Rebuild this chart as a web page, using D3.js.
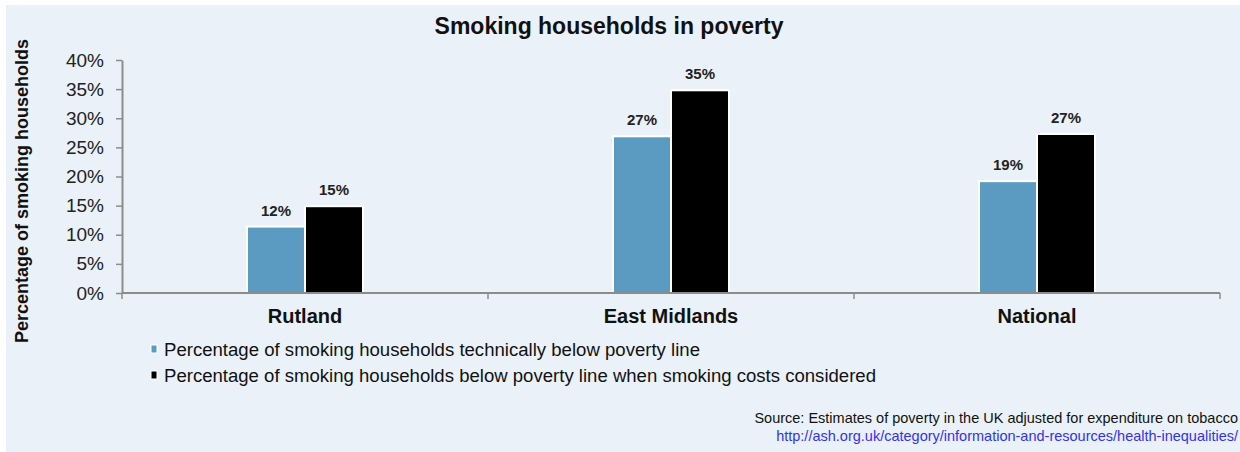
<!DOCTYPE html>
<html><head><meta charset="utf-8">
<script src="https://cdn.jsdelivr.net/npm/d3@7"></script>
<style>
html,body{margin:0;padding:0;background:#fff;}
svg{display:block;font-family:"Liberation Sans",Arial,sans-serif;}
</style></head>
<body>
<svg id="c" width="1240" height="452"></svg>
<script>
const categories = ["Rutland", "East Midlands", "National"];
const seriesNames = ["Percentage of smoking households technically below poverty line",
                     "Percentage of smoking households below poverty line when smoking costs considered"];
const technical = [11.4, 26.9, 19.2];
const withSmoking = [14.9, 34.8, 27.3];
const technicalLabels = ["12%", "27%", "19%"];
const withSmokingLabels = ["15%", "35%", "27%"];
const yTicks = [0, 5, 10, 15, 20, 25, 30, 35, 40];
const colors = ["#5b9bc1", "#000000"];

const svg = d3.select("#c");
svg.append("rect").attr("x", 6).attr("y", 5).attr("width", 1234).attr("height", 447).attr("fill", "#eaf1f8");

const m = {l: 122, r: 1220, t: 60, b: 293};
const x = d3.scaleBand().domain(categories).range([m.l, m.r]);
const y = d3.scaleLinear().domain([0, 40]).range([m.b, m.t]);
const x1 = d3.scaleBand().domain([0, 1]).range([0, 116]).padding(0);

const series = [technical, withSmoking];
const labels = [technicalLabels, withSmokingLabels];

// bars
series.forEach((vals, si) => {
  svg.append("g").selectAll("rect").data(vals).join("rect")
    .attr("x", (d, i) => x(categories[i]) + x.bandwidth() / 2 - 58 + x1(si))
    .attr("y", d => y(d))
    .attr("width", x1.bandwidth())
    .attr("height", d => y(0) - y(d))
    .attr("fill", colors[si])
    .attr("stroke", "#ffffff").attr("stroke-width", 2);
  svg.append("g").selectAll("text").data(vals).join("text")
    .attr("x", (d, i) => x(categories[i]) + x.bandwidth() / 2 - 58 + x1(si) + x1.bandwidth() / 2)
    .attr("y", d => y(d) - 11)
    .attr("text-anchor", "middle")
    .attr("font-size", 15).attr("font-weight", "bold").attr("fill", "#222")
    .text((d, i) => labels[si][i]);
});

// y axis
const yAxis = d3.axisLeft(y).tickValues(yTicks).tickFormat(d => d + "%").tickSize(6).tickSizeOuter(0);
const gy = svg.append("g").attr("transform", `translate(${m.l},0)`).call(yAxis);
gy.select(".domain").attr("stroke", "#8c8c8c").attr("stroke-width", 2);
gy.selectAll(".tick line").attr("stroke", "#8c8c8c").attr("stroke-width", 1.5);
gy.selectAll(".tick text").attr("font-size", 19).attr("fill", "#222").attr("x", -18)
  .attr("font-family", "Liberation Sans, Arial, sans-serif");

// x axis
const gx = svg.append("g").attr("transform", `translate(0,${m.b})`);
gx.append("line").attr("x1", m.l).attr("x2", m.r).attr("stroke", "#8c8c8c").attr("stroke-width", 2);
const bounds = [m.l, ...categories.map(c => x(c) + x.bandwidth())];
gx.selectAll("line.t").data(bounds).join("line").attr("class", "t")
  .attr("x1", d => d).attr("x2", d => d).attr("y1", 0).attr("y2", 6)
  .attr("stroke", "#8c8c8c").attr("stroke-width", 1.5);
gx.selectAll("text").data(categories).join("text")
  .attr("x", d => x(d) + x.bandwidth() / 2).attr("y", 30)
  .attr("text-anchor", "middle").attr("font-size", 20).attr("font-weight", "bold").attr("fill", "#111")
  .text(d => d);

// title
svg.append("text").attr("x", 609).attr("y", 34).attr("text-anchor", "middle")
  .attr("font-size", 23).attr("font-weight", "bold").attr("fill", "#111")
  .text("Smoking households in poverty");

// y label
svg.append("text").attr("transform", "translate(28,191) rotate(-90)").attr("text-anchor", "middle")
  .attr("font-size", 18).attr("font-weight", "bold").attr("fill", "#111")
  .text("Percentage of smoking households");

// legend
seriesNames.forEach((n, i) => {
  const ly = 356 + i * 26;
  svg.append("rect").attr("x", 151).attr("y", ly - 11).attr("width", 6).attr("height", 8)
    .attr("fill", colors[i]).attr("stroke", "#fff").attr("stroke-width", 1);
  svg.append("text").attr("x", 164).attr("y", ly).attr("font-size", 18).attr("fill", "#111")
    .attr("textLength", i === 0 ? 536 : 712).attr("lengthAdjust", "spacingAndGlyphs")
    .text(n);
});

// source
svg.append("text").attr("x", 1238).attr("y", 423).attr("text-anchor", "end")
  .attr("font-size", 14.5).attr("fill", "#111")
  .text("Source: Estimates of poverty in the UK adjusted for expenditure on tobacco");
svg.append("text").attr("x", 1238).attr("y", 441).attr("text-anchor", "end")
  .attr("font-size", 14.5).attr("fill", "#3333ee")
  .text("http://ash.org.uk/category/information-and-resources/health-inequalities/");
</script>
</body></html>
